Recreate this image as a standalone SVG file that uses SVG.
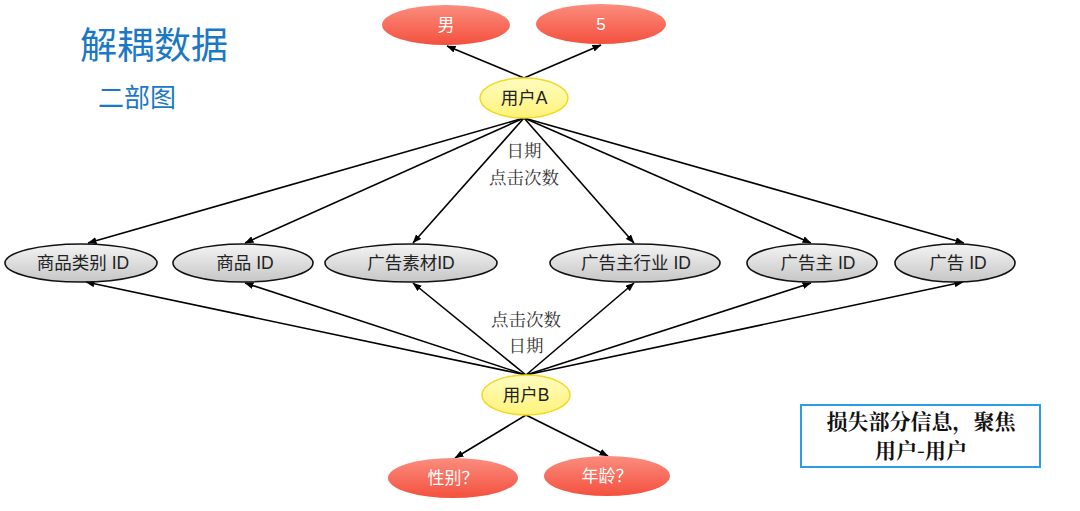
<svg xmlns="http://www.w3.org/2000/svg" width="1080" height="511" viewBox="0 0 1080 511">
<style>
.t{font-family:"Liberation Sans","Noto Sans CJK SC",sans-serif;text-anchor:middle;dominant-baseline:central}
.red{fill:url(#gr)}
.gray{fill:url(#gg);stroke:#111;stroke-width:1.6}
.yel{fill:url(#gy);stroke:#f2d81e;stroke-width:1.5}
.wt{fill:#fff;font-size:17px}
.dt{fill:#222;font-size:17.5px}
.lbl{font-family:"Noto Serif CJK SC","Noto Sans CJK SC",serif;fill:#333;font-size:17.5px;text-anchor:middle}
.e{stroke:#000;stroke-width:1.6;fill:none;marker-end:url(#ah)}
.note{font-family:"Noto Serif CJK SC","Noto Sans CJK SC",serif;font-weight:bold;font-size:21px;text-anchor:middle;fill:#111}
</style>
<defs>
<linearGradient id="gr" x1="0" y1="0" x2="0" y2="1"><stop offset="0" stop-color="#fb8d7e"/><stop offset="1" stop-color="#f4503e"/></linearGradient>
<linearGradient id="gg" x1="0" y1="0" x2="0" y2="1"><stop offset="0" stop-color="#f4f4f4"/><stop offset="1" stop-color="#c6c6c6"/></linearGradient>
<linearGradient id="gy" x1="0" y1="0" x2="0" y2="1"><stop offset="0" stop-color="#fffcc0"/><stop offset="1" stop-color="#fff37a"/></linearGradient>
<marker id="ah" markerWidth="9" markerHeight="7" refX="8.5" refY="3.5" orient="auto" markerUnits="userSpaceOnUse"><path d="M0,0 L9,3.5 L0,7 Z" fill="#000"/></marker>
</defs>
<text x="80" y="59" font-family="Noto Sans CJK SC,sans-serif" font-size="37" fill="#1b78c4">解耦数据</text>
<text x="98" y="107" font-family="Noto Sans CJK SC,sans-serif" font-size="26" fill="#1b78c4">二部图</text>
<g id="connectors">
<line class="e" x1="524" y1="78" x2="447" y2="46"/>
<line class="e" x1="524" y1="78" x2="601" y2="45"/>
<line class="e" x1="524" y1="118" x2="88" y2="243"/>
<line class="e" x1="524" y1="118" x2="245" y2="243"/>
<line class="e" x1="524" y1="118" x2="413" y2="243"/>
<line class="e" x1="524" y1="118" x2="634" y2="243"/>
<line class="e" x1="524" y1="118" x2="811" y2="243"/>
<line class="e" x1="524" y1="118" x2="964" y2="243"/>
<line class="e" x1="526" y1="375" x2="86" y2="282"/>
<line class="e" x1="526" y1="375" x2="245" y2="283"/>
<line class="e" x1="526" y1="375" x2="413" y2="283"/>
<line class="e" x1="526" y1="375" x2="634" y2="283"/>
<line class="e" x1="526" y1="375" x2="811" y2="283"/>
<line class="e" x1="526" y1="375" x2="963" y2="282"/>
<line class="e" x1="526" y1="415" x2="455" y2="458"/>
<line class="e" x1="526" y1="415" x2="608" y2="456"/>
<text class="lbl" x="524" y="157">日期</text>
<text class="lbl" x="524" y="184">点击次数</text>
<text class="lbl" x="526" y="326">点击次数</text>
<text class="lbl" x="526" y="352">日期</text>
</g>
<g id="n-male"><ellipse class="red" cx="446" cy="25" rx="64" ry="20"/><text class="t wt" x="446" y="25">男</text></g>
<g id="n-five"><ellipse class="red" cx="601" cy="24" rx="65" ry="20"/><text class="t wt" x="601" y="24">5</text></g>
<g id="n-userA"><ellipse class="yel" cx="524" cy="98" rx="44" ry="20"/><text class="t dt" x="524" y="98">用户A</text></g>
<g id="n-cat"><ellipse class="gray" cx="81" cy="263" rx="76" ry="19"/><text class="t dt" x="83" y="263">商品类别 ID</text></g>
<g id="n-item"><ellipse class="gray" cx="243" cy="263" rx="70" ry="19"/><text class="t dt" x="245" y="263">商品 ID</text></g>
<g id="n-creative"><ellipse class="gray" cx="411" cy="263" rx="86" ry="19"/><text class="t dt" x="411" y="263">广告素材ID</text></g>
<g id="n-industry"><ellipse class="gray" cx="635" cy="263" rx="85" ry="19"/><text class="t dt" x="636" y="263">广告主行业 ID</text></g>
<g id="n-advertiser"><ellipse class="gray" cx="812" cy="263" rx="65" ry="19"/><text class="t dt" x="818" y="263">广告主 ID</text></g>
<g id="n-ad"><ellipse class="gray" cx="955" cy="263" rx="60" ry="19"/><text class="t dt" x="958" y="263">广告 ID</text></g>
<g id="n-userB"><ellipse class="yel" cx="526" cy="395" rx="44" ry="20"/><text class="t dt" x="526" y="395">用户B</text></g>
<g id="n-gender"><ellipse class="red" cx="453" cy="478" rx="65" ry="20"/><text class="t wt" x="453" y="478">性别？</text></g>
<g id="n-age"><ellipse class="red" cx="607" cy="476" rx="63" ry="20"/><text class="t wt" x="607" y="476">年龄？</text></g>
<g id="note">
<rect x="801" y="405" width="239" height="62" fill="#fff" stroke="#2a9de6" stroke-width="2"/>
<text class="note" x="921" y="429">损失部分信息，聚焦</text>
<text class="note" x="921" y="458">用户-用户</text>
</g>
</svg>
